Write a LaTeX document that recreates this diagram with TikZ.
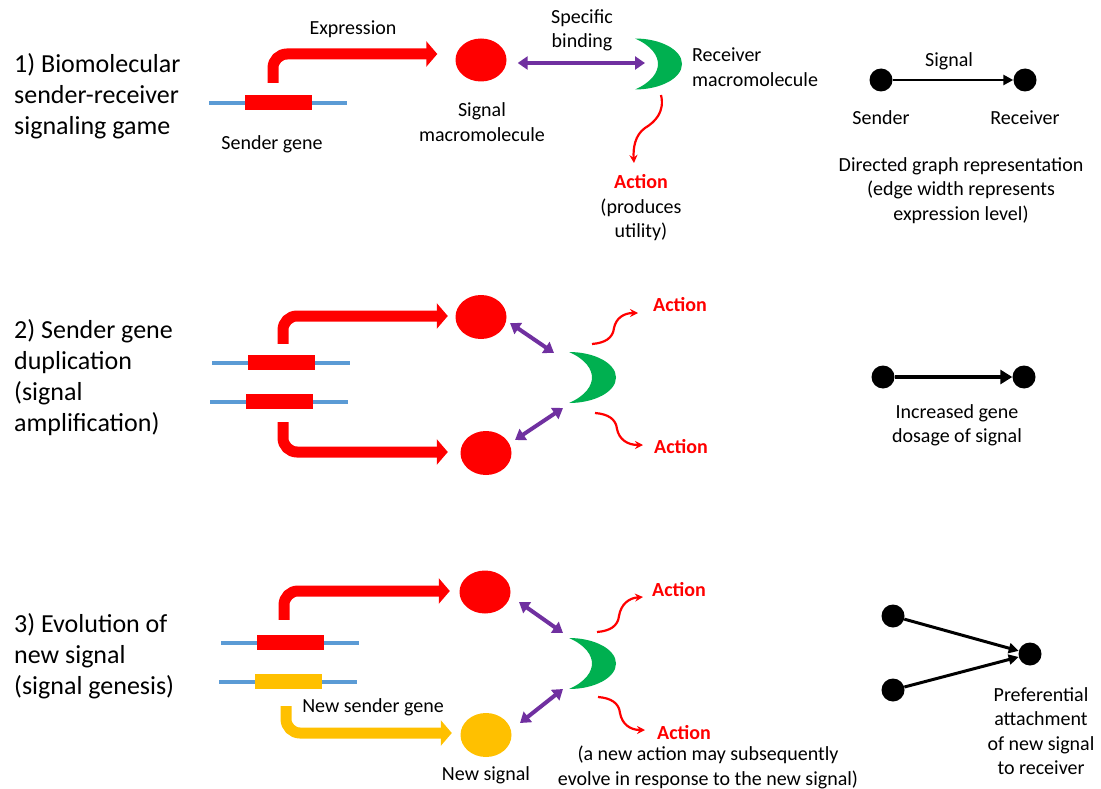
\documentclass[tikz,border=0pt]{standalone}
\usepackage{fontspec}
\setmainfont{Carlito}
\usetikzlibrary{arrows.meta,shapes.geometric,calc}
\definecolor{cred}{HTML}{FF0000}
\definecolor{cblue}{HTML}{5B9BD5}
\definecolor{cpurple}{HTML}{7030A0}
\definecolor{cgreen}{HTML}{00B050}
\definecolor{cyellow}{HTML}{FFC000}
\begin{document}
\begin{tikzpicture}[x=1pt,y=-1pt,
  txt/.style={inner sep=0pt,align=center,font=\fontsize{20}{24.5}\selectfont},
  act/.style={txt,text=cred,font=\fontsize{20}{24.5}\selectfont\bfseries},
  lbl/.style={inner sep=0pt,align=left,anchor=west,font=\fontsize{26}{31}\selectfont},
  dna/.style={cblue,line width=4pt},
  gene/.style={rectangle,fill=cred,inner sep=0pt,minimum width=67pt,minimum height=15pt},
  ygene/.style={gene,fill=cyellow},
  sig/.style={ellipse,fill=cred,inner sep=0pt,minimum width=51pt,minimum height=43pt},
  ysig/.style={sig,fill=cyellow},
  expr/.style={cred,line width=11pt,rounded corners=14pt,-{Triangle[length=11pt,width=25pt]}},
  yexpr/.style={expr,cyellow},
  bind/.style={cpurple,line width=4pt,{Triangle[length=10pt,width=13pt]}-{Triangle[length=10pt,width=13pt]}},
  wave/.style={cred,line width=2.2pt,-{Stealth[length=8pt,width=8pt]}},
  gdot/.style={circle,fill=black,inner sep=0pt,minimum size=23pt},
  garrow/.style={line width=2.5pt,-{Triangle[length=10pt,width=10pt]}},
  crescent/.pic={\fill[cgreen] (0,-25.5) .. controls (26,-25.5) and (47,-14) .. (47,0) .. controls (47,14) and (26,25.5) .. (0,25.5) .. controls (17,18) and (23,8) .. (23,0) .. controls (23,-8) and (17,-18) .. (0,-25.5) -- cycle; \coordinate (-o) at (0,0);}
]
\useasboundingbox (0,0) rectangle (1101,789);

% ---------- Row 1 ----------
\node[lbl] (L1) at (14,96) {1) Biomolecular\\sender-receiver\\signaling game};
\draw[dna] (209,103) -- (347,103);
\node[gene] (g1) at (278,102.5) {};
\node[sig] (c1) at (481,60) {};
\draw[expr] ($(g1.north)+(-5,-12)$) |- ($(c1.west)+(-18,-6)$);
\pic (r1) at (635,64) {crescent};
\draw[bind] ($(c1.east)+(11,3)$) -- ($(r1-o)+(10,-1)$);
\node[txt] (expr1) at (353,29) {Expression};
\node[txt] (spec) at (582,30.5) {Specific\\binding};
\node[txt,align=left,anchor=west] (recl) at (692,67) {Receiver\\macromolecule};
\node[txt] (sigl) at (482,122) {Signal\\macromolecule};
\node[txt] (sgl) at (272,144) {Sender gene};
\node[txt] (act1) at (641,208) {\textcolor{cred}{\bfseries Action}\\(produces\\utility)};
\coordinate (w1s) at ($(r1-o)+(26,31)$);
\coordinate (w1e) at (634,163);
\draw[wave] (w1s) .. controls (665,112) and (655,122) .. (645,128) .. controls (635,135) and (633,148) .. (w1e);

\node[gdot] (s1) at (881,80) {};
\node[gdot] (q1) at (1025,80) {};
\draw[garrow] (s1) -- (q1);
\node[txt] at (949,61) {Signal};
\node[txt] at (881,118) {Sender};
\node[txt] at (1025,118) {Receiver};
\node[txt] at (961,190.5) {Directed graph representation\\(edge width represents\\expression level)};

% ---------- Row 2 ----------
\node[lbl] (L2) at (14,378) {2) Sender gene\\duplication\\(signal\\amplification)};
\draw[dna] (212,363) -- (350,363);
\draw[dna] (210,402) -- (348,402);
\node[gene] (g2a) at (281,362.5) {};
\node[gene] (g2b) at (279,401.5) {};
\node[sig,minimum height=44pt] (c2a) at (481,317) {};
\node[sig,minimum height=44pt] (c2b) at (486,453) {};
\draw[expr] ($(g2a.north)+(2,-11)$) |- ($(c2a.west)+(-7.5,-1)$);
\draw[expr] ($(g2b.south)+(4,13)$) |- ($(c2b.west)+(-12.5,-1)$);
\pic (r2) at (569,377.5) {crescent};
\draw[bind] ($(c2a)+(29,6)$) -- ($(r2-o)+(-15,-24.5)$);
\draw[bind] ($(c2b)+(29,-13)$) -- ($(r2-o)+(-6,30.5)$);
\node[act] (a2u) at (680,305) {Action};
\node[act] (a2d) at (681,447) {Action};
\coordinate (w2us) at (592,344);
\coordinate (w2ue) at (638,313);
\coordinate (w2ds) at (595,413);
\coordinate (w2de) at (643,445);
\draw[wave] (w2us) .. controls (605,343) and (613,338) .. (614,328) .. controls (616,318) and (624,313) .. (w2ue);
\draw[wave] (w2ds) .. controls (608,414) and (616,419) .. (617,429) .. controls (619,439) and (627,445) .. (w2de);

\node[gdot] (s2) at (883,377) {};
\node[gdot] (q2) at (1024,377) {};
\draw[garrow,line width=4pt,-{Triangle[length=12pt,width=14pt]}] (s2) -- (q2);
\node[txt] at (957,425.5) {Increased gene\\dosage of signal};

% ---------- Row 3 ----------
\node[lbl] (L3) at (14,656) {3) Evolution of\\new signal\\(signal genesis)};
\draw[dna] (221,643) -- (359,643);
\draw[dna] (219,682) -- (357,682);
\node[gene] (g3a) at (290,642.5) {};
\node[ygene] (g3b) at (288,681.5) {};
\node[sig] (c3a) at (485,592) {};
\node[ysig,minimum height=44pt] (c3b) at (486,735) {};
\draw[expr] ($(g3a.north)+(-6,-15)$) |- ($(c3a.west)+(-9.5,-1)$);
\draw[yexpr] ($(g3b.south)+(-2,17)$) |- ($(c3b.west)+(-8.5,-2)$);
\pic (r3) at (569,663.5) {crescent};
\draw[bind] ($(c3a)+(34,10)$) -- ($(r3-o)+(-6,-30.5)$);
\draw[bind] ($(c3b)+(34,-12)$) -- ($(r3-o)+(-6,25.5)$);
\node[act] (a3u) at (679,590) {Action};
\node[act] (a3d) at (684,733) {Action};
\node[txt] (a3n) at (708,767.5) {(a new action may subsequently\\evolve in response to the new signal)};
\node[txt] (nsg) at (373,707) {New sender gene};
\node[txt] (nsl) at (486,775) {New signal};
\coordinate (w3us) at (597,632);
\coordinate (w3ue) at (643,597);
\coordinate (w3ds) at (598,697);
\coordinate (w3de) at (645,730);
\draw[wave] (w3us) .. controls (610,631) and (618,626) .. (619,616) .. controls (621,604) and (629,598) .. (w3ue);
\draw[wave] (w3ds) .. controls (611,698) and (619,703) .. (620,713) .. controls (622,724) and (630,730) .. (w3de);

\node[gdot] (s3a) at (893,616) {};
\node[gdot] (s3b) at (893,690) {};
\node[gdot] (q3) at (1030,654) {};
\draw[garrow,line width=3pt] (s3a) -- (q3);
\draw[garrow,line width=3pt] (s3b) -- (q3);
\node[txt] at (1041,731) {Preferential\\attachment\\of new signal\\to receiver};
\end{tikzpicture}
\end{document}
